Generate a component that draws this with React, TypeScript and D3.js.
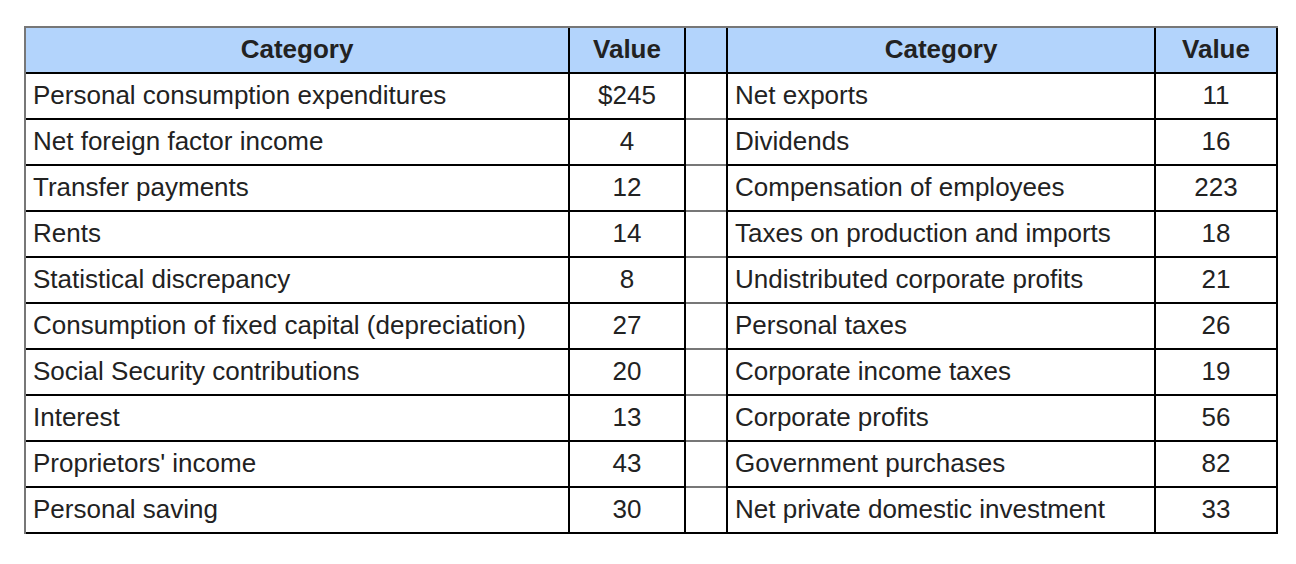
import React from "react";
import * as d3 from "d3";

const headers = ["Category", "Value"];
const leftCategories = [
  "Personal consumption expenditures",
  "Net foreign factor income",
  "Transfer payments",
  "Rents",
  "Statistical discrepancy",
  "Consumption of fixed capital (depreciation)",
  "Social Security contributions",
  "Interest",
  "Proprietors' income",
  "Personal saving",
];
const leftValues = [245, 4, 12, 14, 8, 27, 20, 13, 43, 30];
const rightCategories = [
  "Net exports",
  "Dividends",
  "Compensation of employees",
  "Taxes on production and imports",
  "Undistributed corporate profits",
  "Personal taxes",
  "Corporate income taxes",
  "Corporate profits",
  "Government purchases",
  "Net private domestic investment",
];
const rightValues = [11, 16, 223, 18, 21, 26, 19, 56, 82, 33];

const W = 1296;
const H = 564;
const FONT = "'Liberation Sans', Arial, Helvetica, sans-serif";
const TEXT = "#222";
const BLUE = "#b3d4fc";
const GRAY = "#777";
const FS = 26;

// column boundaries (line centres)
const colX = [25, 569, 685, 727, 1155, 1277];

export default function App() {
  const rows = d3.range(leftCategories.length + 1);
  const y = d3.scaleBand<number>().domain(rows).range([27, 533]).paddingInner(0).paddingOuter(0);
  const bw = y.bandwidth();
  const fmtVal = (v: number, i: number) => (i === 0 ? `$${v}` : String(v));

  const bodyRows = d3.range(leftCategories.length);
  const lineYs = rows.map((r) => (y(r) as number) + bw);

  return (
    <svg
      width={W}
      height={H}
      style={{ position: "absolute", left: 0, top: 0, display: "block", background: "#fff" }}
      fontFamily={FONT}
    >
      <rect x={colX[0]} y={y(0)} width={colX[5] - colX[0]} height={bw} fill={BLUE} />

      {lineYs.map((ly, i) => {
        const isHeader = i === 0;
        const isLast = i === lineYs.length - 1;
        return (
          <g key={"h" + i}>
            <line x1={colX[0]} x2={colX[2]} y1={ly} y2={ly} stroke="#000" strokeWidth={2} />
            <line
              x1={colX[2]}
              x2={colX[3]}
              y1={ly}
              y2={ly}
              stroke={isHeader || isLast ? "#000" : GRAY}
              strokeWidth={2}
            />
            <line x1={colX[3]} x2={colX[5] + 1} y1={ly} y2={ly} stroke="#000" strokeWidth={2} />
          </g>
        );
      })}

      {[1, 2, 3, 4].map((c) => (
        <line key={"v" + c} x1={colX[c]} x2={colX[c]} y1={y(0) as number} y2={534} stroke="#000" strokeWidth={2} />
      ))}
      <line x1={colX[5]} x2={colX[5]} y1={y(0) as number} y2={534} stroke="#000" strokeWidth={2} />
      <line x1={colX[0] - 1} x2={colX[5] + 1} y1={y(0) as number} y2={y(0) as number} stroke={GRAY} strokeWidth={2} />
      <line x1={colX[0]} x2={colX[0]} y1={(y(0) as number) - 1} y2={534} stroke={GRAY} strokeWidth={2} />

      {[
        [colX[0], colX[1], headers[0]],
        [colX[1], colX[2], headers[1]],
        [colX[3], colX[4], headers[0]],
        [colX[4], colX[5], headers[1]],
      ].map(([a, b, t], i) => (
        <text
          key={"hd" + i}
          x={((a as number) + (b as number)) / 2}
          y={(y(0) as number) + bw / 2 - 1}
          textAnchor="middle"
          dominantBaseline="central"
          fontWeight="bold"
          fontSize={FS}
          fill={TEXT}
        >
          {t}
        </text>
      ))}

      {bodyRows.map((i) => {
        const cy = (y(i + 1) as number) + bw / 2 - 1;
        return (
          <g key={"r" + i} fontSize={FS} fill={TEXT}>
            <text x={colX[0] + 8} y={cy} dominantBaseline="central">
              {leftCategories[i]}
            </text>
            <text x={(colX[1] + colX[2]) / 2} y={cy} textAnchor="middle" dominantBaseline="central">
              {fmtVal(leftValues[i], i)}
            </text>
            <text x={colX[3] + 8} y={cy} dominantBaseline="central">
              {rightCategories[i]}
            </text>
            <text x={(colX[4] + colX[5]) / 2} y={cy} textAnchor="middle" dominantBaseline="central">
              {rightValues[i]}
            </text>
          </g>
        );
      })}
    </svg>
  );
}
